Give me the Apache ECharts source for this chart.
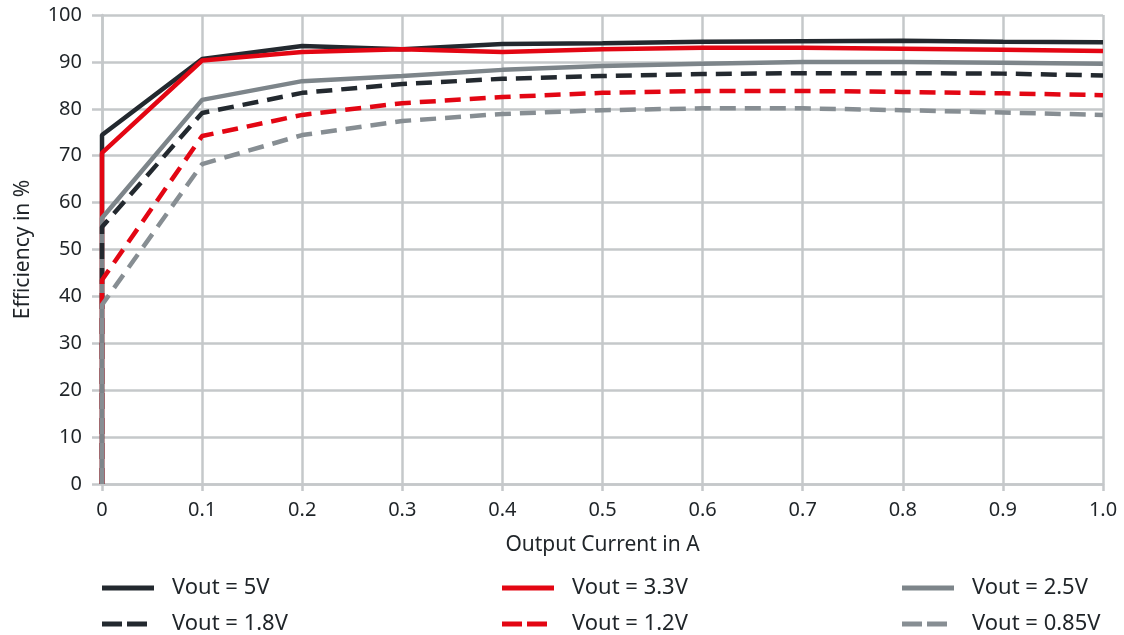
<!DOCTYPE html>
<html><head><meta charset="utf-8">
<script src="https://cdn.jsdelivr.net/npm/echarts@6/dist/echarts.min.js"></script>
<style>html,body{margin:0;padding:0;background:#fff}#c{width:1124px;height:635px}</style>
</head><body><div id="c"></div>
<script>
const currents = [0, 0, 0.1, 0.2, 0.3, 0.4, 0.5, 0.6, 0.7, 0.8, 0.9, 1.0];
const seriesNames = ['Vout = 5V', 'Vout = 3.3V', 'Vout = 2.5V', 'Vout = 1.8V', 'Vout = 1.2V', 'Vout = 0.85V'];
const eff5V   = [0, 74.4, 90.6, 93.4, 92.7, 93.8, 94.0, 94.3, 94.4, 94.5, 94.3, 94.2];
const eff3V3  = [0, 70.6, 90.3, 92.1, 92.7, 92.1, 92.7, 93.0, 93.0, 92.8, 92.6, 92.3];
const eff2V5  = [0, 56.7, 81.9, 85.9, 87.0, 88.3, 89.1, 89.6, 90.0, 90.0, 89.8, 89.6];
const eff1V8  = [0, 54.8, 79.1, 83.4, 85.3, 86.4, 87.0, 87.4, 87.6, 87.6, 87.5, 87.1];
const eff1V2  = [0, 43.5, 74.2, 78.7, 81.2, 82.5, 83.4, 83.8, 83.8, 83.6, 83.3, 82.9];
const eff0V85 = [0, 38.2, 68.2, 74.4, 77.4, 78.9, 79.7, 80.1, 80.1, 79.7, 79.2, 78.7];
const xTicks = ['0', '0.1', '0.2', '0.3', '0.4', '0.5', '0.6', '0.7', '0.8', '0.9', '1.0'];

const colors = ['#23292f', '#e30613', '#7d858a', '#23292f', '#e30613', '#878e93'];
const dashed = [false, false, false, true, true, true];
const values = [eff5V, eff3V3, eff2V5, eff1V8, eff1V2, eff0V85];
const FONT = '"Noto Sans", "Open Sans", sans-serif';
const TXT = '#1f2428';
const gridColor = '#c5c8ca';

const series = seriesNames.map((n, i) => ({
  name: n, type: 'line', symbol: 'none', animation: false,
  data: currents.map((x, j) => [x, values[i][j]]),
  lineStyle: { color: colors[i], width: 4.5, type: dashed[i] ? [16, 9] : 'solid', cap: 'butt' },
  itemStyle: { color: colors[i] }
}));

const legendPos = [[102, 577], [502, 577], [902, 577], [102, 613], [502, 613], [902, 613]];
const legends = seriesNames.map((n, i) => ({
  data: [n], left: legendPos[i][0], top: legendPos[i][1], padding: 0,
  icon: dashed[i] ? 'path://M0,0H20V5H0Z M25,0H45V5H25Z' : 'path://M0,0H52V5H0Z',
  itemWidth: dashed[i] ? 45 : 52, itemHeight: 5,
  itemStyle: { color: colors[i], borderWidth: 0 },
  lineStyle: { width: 0 },
  textStyle: { fontFamily: FONT, fontSize: 22, color: TXT, padding: [0, 0, 0, dashed[i] ? 20 : 13] }
}));

const chart = echarts.init(document.getElementById('c'), null, { renderer: 'canvas' });
chart.setOption({
  animation: false,
  grid: { left: 102, right: 21, top: 15, bottom: 151, containLabel: false, outerBoundsMode: 'none' },
  legend: legends,
  xAxis: {
    type: 'value', min: 0, max: 1, interval: 0.1,
    name: 'Output Current in A', nameLocation: 'middle', nameGap: 51,
    nameTextStyle: { fontFamily: FONT, fontSize: 21, color: TXT },
    axisLine: { show: true, lineStyle: { color: gridColor, width: 2.5 } },
    axisTick: { show: true, length: 7, lineStyle: { color: gridColor, width: 2.5 } },
    splitLine: { show: true, lineStyle: { color: gridColor, width: 2.5 } },
    axisLabel: { margin: 16, fontFamily: FONT, fontSize: 20, color: TXT,
      formatter: v => xTicks[Math.round(v * 10)] }
  },
  yAxis: {
    type: 'value', min: 0, max: 100, interval: 10,
    name: 'Efficiency in %', nameLocation: 'middle', nameGap: 68, nameRotate: 90,
    nameTextStyle: { fontFamily: FONT, fontSize: 21, color: TXT },
    axisLine: { show: true, lineStyle: { color: gridColor, width: 2.5 } },
    axisTick: { show: true, length: 10, lineStyle: { color: gridColor, width: 2.5 } },
    splitLine: { show: true, lineStyle: { color: gridColor, width: 2.5 } },
    axisLabel: { margin: 20, fontFamily: FONT, fontSize: 20, color: TXT }
  },
  series: series
});
</script></body></html>
